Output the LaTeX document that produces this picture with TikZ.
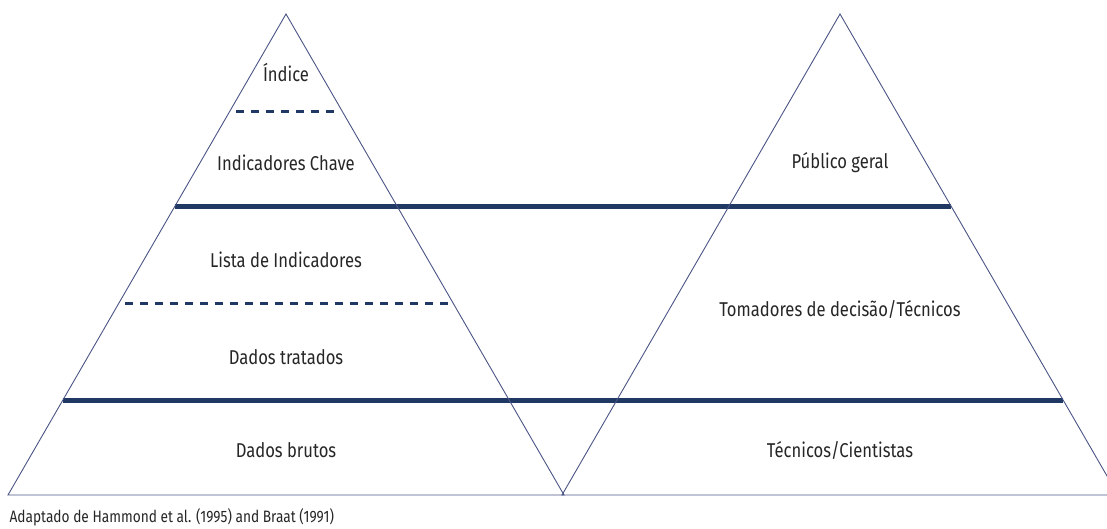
\documentclass[tikz,border=0pt]{standalone}
\usepackage{fontspec}
\setmainfont{Fira Sans}[FakeStretch=0.83]
\usetikzlibrary{calc}
\definecolor{navy}{HTML}{1F3864}
\definecolor{edgeblue}{HTML}{4A5485}

\begin{document}
\begin{tikzpicture}[x=1pt, y=-1pt, side/.style={draw=edgeblue, line width=0.9pt}, bar/.style={draw=navy, line width=5pt}, split/.style={draw=navy, line width=3pt, dash pattern=on 8pt off 7pt}, label/.style={font=\fontsize{20}{24}\selectfont, text=black!85}, source/.style={font=\fontsize{16.5}{20}\selectfont, text=black!85}]
\useasboundingbox (0,0) rectangle (1107,529);
\clip (0,0) rectangle (1107,529);

% left pyramid
\coordinate (ltop) at (286,14); \coordinate (lbl) at (8,495); \coordinate (lbr) at (564,495);
% right pyramid
\coordinate (rtop) at (840,14); \coordinate (rbl) at (562,495); \coordinate (rbr) at (1118,495);

\draw[bar] ($(ltop)!0.401!(lbl)$) -- ($(rtop)!0.401!(rbr)$);
\draw[bar] ($(ltop)!0.8025!(lbl)$) -- ($(rtop)!0.8025!(rbr)$);
\draw[split] ($(ltop)!0.2017!(lbl)+(6,0)$) -- ($(ltop)!0.2017!(lbr)+(-2,0)$);
\draw[split] ($(ltop)!0.601!(lbl)+(6,0)$) -- ($(ltop)!0.601!(lbr)$);

\draw[side] (ltop) -- (lbl) -- (lbr) -- cycle;
\draw[side] (rtop) -- (rbl) -- (rbr) -- cycle;

\node[label] (indice) at (286,73) {Índice};
\node[label] (chave) at (286,163) {Indicadores Chave};
\node[label] (lista) at (286,260) {Lista de Indicadores};
\node[label] (tratados) at (286,357) {Dados tratados};
\node[label] (brutos) at (286,450) {Dados brutos};

\node[label] (publico) at (840,163) {Público geral};
\node[label] (tomadores) at (840,309) {Tomadores de decisão/Técnicos};
\node[label] (cientistas) at (840,450) {Técnicos/Cientistas};

\node[source, anchor=west] (fonte) at (6,517) {Adaptado de Hammond et al. (1995) and Braat (1991)};
\end{tikzpicture}
\end{document}
